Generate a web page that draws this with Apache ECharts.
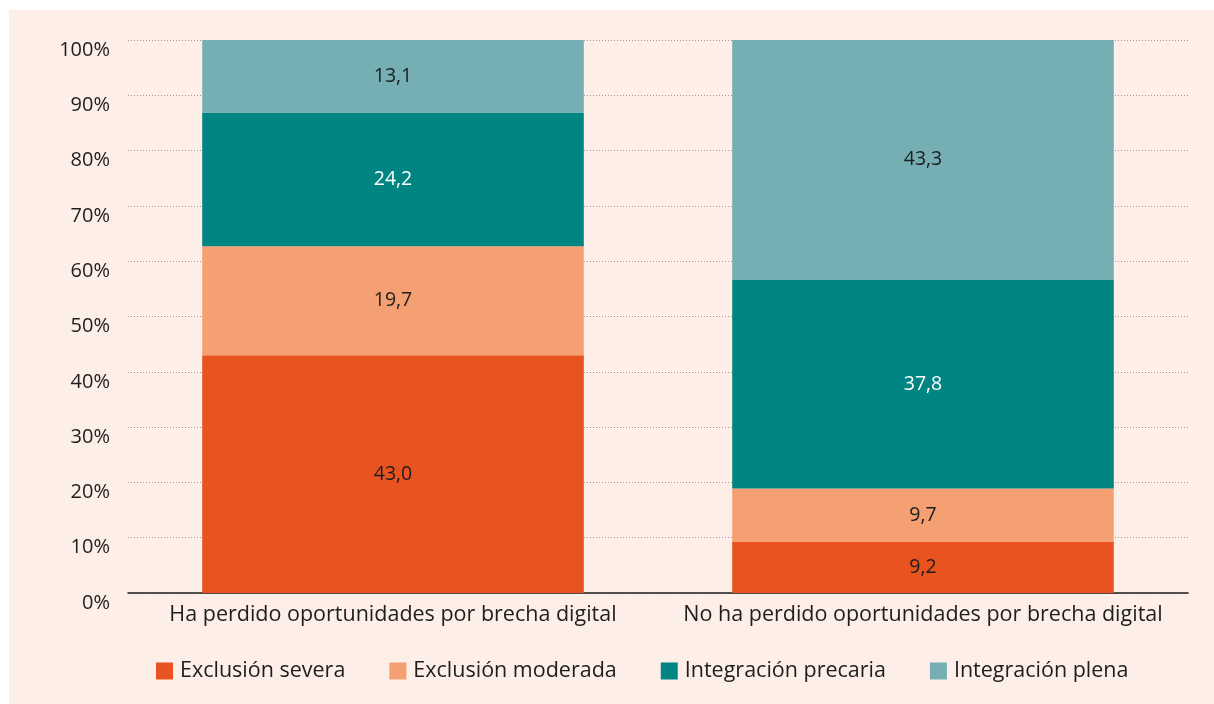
<!DOCTYPE html>
<html>
<head>
<meta charset="utf-8">
<script src="https://cdn.jsdelivr.net/npm/echarts@6/dist/echarts.min.js"></script>
<style>
    body {
        margin: 0;
        background-color: #fff;
    }

    .panel {
        position: absolute;
        left: 9px;
        top: 10px;
        width: 1205px;
        height: 694px;
        background-color: #fdeee7;
    }
</style>
</head>
<body>
<div id="chart" class="panel"></div>
<script>
const categories = ['Ha perdido oportunidades por brecha digital', 'No ha perdido oportunidades por brecha digital']
const seriesNames = ['Exclusión severa', 'Exclusión moderada', 'Integración precaria', 'Integración plena']
const severa = [43.0, 9.2]
const moderada = [19.7, 9.7]
const precaria = [24.2, 37.8]
const plena = [13.1, 43.3]
const yTicks = [0, 10, 20, 30, 40, 50, 60, 70, 80, 90, 100]

const colors = ['#e8531f', '#f4a073', '#008583', '#75afb3']
const labelColors = ['#1e1e1e', '#1e1e1e', '#ffffff', '#1e1e1e']
const font = 'Open Sans'

const makeSeries = (name, data, i) => {
    return {
        name: name,
        type: 'bar',
        stack: 'total',
        barWidth: '72%',
        data: data,
        itemStyle: { color: colors[i] },
        label: {
            show: true,
            position: 'inside',
            color: labelColors[i],
            fontFamily: font,
            fontSize: 19.5,
            formatter: p => p.value.toFixed(1).replace('.', ',')
        }
    }
}

const charts = echarts.init(document.getElementById('chart'))
charts.setOption({
    animation: false,
    grid: {
        left: 119,
        right: 26,
        top: 30,
        bottom: 111
    },
    legend: {
        bottom: 17,
        left: 142,
        itemWidth: 17,
        itemHeight: 17,
        itemGap: 44,
        icon: 'rect',
        textStyle: {
            fontFamily: font,
            fontSize: 21.5,
            color: '#1e1e1e',
            padding: [0, 0, 0, 2]
        },
        data: seriesNames
    },
    xAxis: {
        type: 'category',
        data: categories,
        axisTick: { show: false },
        axisLine: {
            lineStyle: { color: '#1e1e1e', width: 1.5 }
        },
        axisLabel: {
            interval: 0,
            fontFamily: font,
            fontSize: 21.5,
            color: '#1e1e1e',
            margin: 11
        }
    },
    yAxis: {
        type: 'value',
        min: yTicks[0],
        max: yTicks[yTicks.length - 1],
        interval: 10,
        axisLine: { show: false },
        axisTick: { show: false },
        splitLine: {
            lineStyle: { color: '#9a9a9a', type: [1, 2], width: 1 }
        },
        axisLabel: {
            fontFamily: font,
            fontSize: 20,
            color: '#1e1e1e',
            margin: 18,
            verticalAlign: 'top',
            formatter: '{value}%'
        }
    },
    series: [
        makeSeries(seriesNames[0], severa, 0),
        makeSeries(seriesNames[1], moderada, 1),
        makeSeries(seriesNames[2], precaria, 2),
        makeSeries(seriesNames[3], plena, 3)
    ]
})
</script>
</body>
</html>
